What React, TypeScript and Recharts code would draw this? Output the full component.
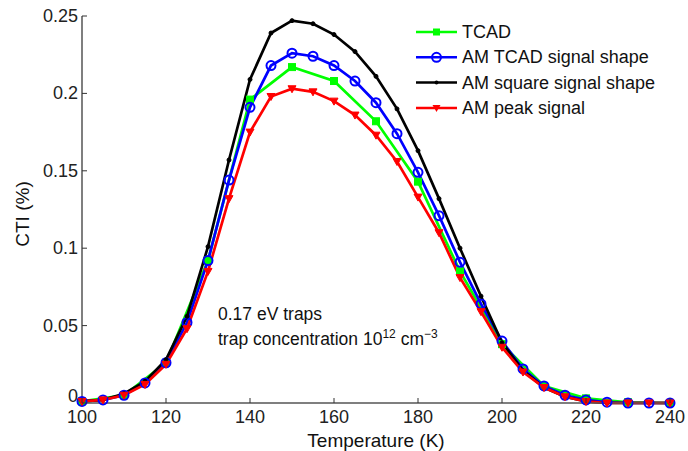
import React from 'react';
import { LineChart, Line, XAxis, YAxis, Legend } from 'recharts';

const temps5 = [100, 105, 110, 115, 120, 125, 130, 135, 140, 145, 150, 155, 160, 165, 170, 175, 180, 185, 190, 195, 200, 205, 210, 215, 220, 225, 230, 235, 240];
const temps10 = [100, 110, 120, 130, 140, 150, 160, 170, 180, 190, 200, 210, 220, 230, 240];

const tcad = [0.001, 0.005, 0.026, 0.092, 0.196, 0.217, 0.208, 0.182, 0.143, 0.085, 0.038, 0.011, 0.003, 0.0005, 0];
const amTcadShape = [0.001, 0.002, 0.005, 0.013, 0.026, 0.052, 0.092, 0.144, 0.191, 0.218, 0.226, 0.224, 0.218, 0.208, 0.194, 0.174, 0.149, 0.121, 0.091, 0.064, 0.040, 0.022, 0.011, 0.005, 0.002, 0.0005, 0, 0, 0];
const amSquareShape = [0.001, 0.002, 0.006, 0.014, 0.028, 0.056, 0.101, 0.157, 0.209, 0.239, 0.247, 0.245, 0.238, 0.227, 0.211, 0.190, 0.163, 0.132, 0.100, 0.069, 0.039, 0.021, 0.010, 0.004, 0.001, 0, 0, 0, 0];
const amPeak = [0.001, 0.002, 0.005, 0.012, 0.025, 0.048, 0.085, 0.132, 0.175, 0.198, 0.203, 0.201, 0.195, 0.186, 0.173, 0.156, 0.133, 0.110, 0.081, 0.059, 0.036, 0.020, 0.010, 0.004, 0.001, 0, 0, 0, 0];

const xTicks = [100, 120, 140, 160, 180, 200, 220, 240];
const yTicks = [0, 0.05, 0.1, 0.15, 0.2, 0.25];
const yTickLabels = ['0', '0.05', '0.1', '0.15', '0.2', '0.25'];

const seriesNames = ['TCAD', 'AM TCAD signal shape', 'AM square signal shape', 'AM peak signal'];
const seriesColors = ['#00ff00', '#0000ff', '#000000', '#ff0000'];

const FONT = '"Liberation Sans", Arial, Helvetica, sans-serif';
const FS = 18;

const toData = (xs: number[], ys: number[]) => xs.map((t, i) => ({ t, v: ys[i] }));

const dataTcad = toData(temps10, tcad);
const dataAmTcad = toData(temps5, amTcadShape);
const dataAmSquare = toData(temps5, amSquareShape);
const dataAmPeak = toData(temps5, amPeak);

const Square = (props: any) => {
  const { cx, cy, index } = props;
  if (cx == null || cy == null) return <g key={`s-${index}`} />;
  return <rect key={`s-${index}`} x={cx - 3.5} y={cy - 3.5} width={7} height={7} fill="#00ff00" stroke="#00ff00" />;
};

const Tri = (props: any) => {
  const { cx, cy, index } = props;
  if (cx == null || cy == null) return <g key={`t-${index}`} />;
  return (
    <polygon
      key={`t-${index}`}
      points={`${cx - 4},${cy - 3} ${cx + 4},${cy - 3} ${cx},${cy + 4}`}
      fill="#ff0000"
      stroke="#ff0000"
    />
  );
};

const XTick = (props: any) => {
  const { x, y, payload } = props;
  return (
    <g>
      <line x1={x} y1={y} x2={x} y2={y - 5} stroke="#333" strokeWidth={1} />
      <text x={x} y={y + 20} textAnchor="middle" fontSize={FS} fontFamily={FONT} fill="#222">
        {payload.value}
      </text>
    </g>
  );
};

const YTick = (props: any) => {
  const { x, y, payload, index } = props;
  const lift = index === 0 ? 7 : 0;
  return (
    <g>
      <line x1={x} y1={y} x2={x + 5} y2={y} stroke="#333" strokeWidth={1} />
      <text x={x - 4} y={y + 6 - lift} textAnchor="end" fontSize={FS} fontFamily={FONT} fill="#222">
        {yTickLabels[index] ?? String(payload.value)}
      </text>
    </g>
  );
};

const LegendMarker = ({ i, cx, cy }: { i: number; cx: number; cy: number }) => {
  if (i === 0) return <rect x={cx - 3.5} y={cy - 3.5} width={7} height={7} fill="#00ff00" />;
  if (i === 1) return <circle cx={cx} cy={cy} r={4.5} fill="none" stroke="#0000ff" strokeWidth={2} />;
  if (i === 2) return <circle cx={cx} cy={cy} r={2} fill="#000" />;
  return <polygon points={`${cx - 4},${cy - 3} ${cx + 4},${cy - 3} ${cx},${cy + 4}`} fill="#ff0000" />;
};

const renderLegend = () => (
  <svg width={270} height={110}>
    {seriesNames.map((name, i) => {
      const cy = 14 + i * 25.3;
      return (
        <g key={name}>
          <line x1={6} y1={cy} x2={47} y2={cy} stroke={seriesColors[i]} strokeWidth={2.5} />
          <LegendMarker i={i} cx={26.5} cy={cy} />
          <text x={52} y={cy + 6} fontSize={FS} fontFamily={FONT} fill="#111">
            {name}
          </text>
        </g>
      );
    })}
  </svg>
);

export default function App() {
  return (
    <div style={{ position: 'absolute', left: 0, top: 0, width: 688, height: 451, background: '#fff' }}>
      <LineChart width={688} height={451} margin={{ top: 16, right: 18, left: 0, bottom: 0 }}>
        <XAxis
          dataKey="t"
          type="number"
          domain={[100, 240]}
          ticks={xTicks}
          height={48}
          tickLine={false}
          tickSize={0}
          tickMargin={0}
          tick={<XTick />}
          axisLine={{ stroke: '#555', strokeWidth: 1.5 }}
          allowDuplicatedCategory={false}
          label={{
            value: 'Temperature (K)',
            position: 'insideBottom',
            offset: 4,
            fontSize: 19,
            fontFamily: FONT,
            fill: '#111',
          }}
        />
        <YAxis
          type="number"
          domain={[0, 0.25]}
          ticks={yTicks}
          width={82}
          tickLine={false}
          tickSize={0}
          tickMargin={0}
          tick={<YTick />}
          axisLine={{ stroke: '#555', strokeWidth: 1.5 }}
          label={{
            content: () => (
              <text
                x={29}
                y={214}
                transform="rotate(-90, 29, 214)"
                textAnchor="middle"
                fontSize={19}
                fontFamily={FONT}
                fill="#111"
              >
                CTI (%)
              </text>
            ),
          }}
        />
        <Legend
          layout="vertical"
          align="center"
          verticalAlign="middle"
          content={renderLegend}
          wrapperStyle={{ left: 410, top: 18, width: 270, height: 110 }}
        />
        <Line
          data={dataTcad}
          dataKey="v"
          name={seriesNames[0]}
          type="linear"
          stroke={seriesColors[0]}
          strokeWidth={2.7}
          dot={Square}
          activeDot={false}
          isAnimationActive={false}
        />
        <Line
          data={dataAmTcad}
          dataKey="v"
          name={seriesNames[1]}
          type="linear"
          stroke={seriesColors[1]}
          strokeWidth={2.7}
          dot={{ r: 4.5, stroke: '#0000ff', strokeWidth: 2, fill: 'none' }}
          activeDot={false}
          isAnimationActive={false}
        />
        <Line
          data={dataAmSquare}
          dataKey="v"
          name={seriesNames[2]}
          type="linear"
          stroke={seriesColors[2]}
          strokeWidth={2.7}
          dot={{ r: 2, stroke: '#000', strokeWidth: 1, fill: '#000' }}
          activeDot={false}
          isAnimationActive={false}
        />
        <Line
          data={dataAmPeak}
          dataKey="v"
          name={seriesNames[3]}
          type="linear"
          stroke={seriesColors[3]}
          strokeWidth={2.7}
          dot={Tri}
          activeDot={false}
          isAnimationActive={false}
        />
        <text x={218} y={320} fontSize={17.5} fontFamily={FONT} fill="#111">
          0.17 eV traps
        </text>
        <text x={218} y={345} fontSize={17.5} fontFamily={FONT} fill="#111">
          trap concentration 10
          <tspan dy={-7} fontSize={12}>12</tspan>
          <tspan dy={7}> cm</tspan>
          <tspan dy={-7} fontSize={12}>−3</tspan>
        </text>
      </LineChart>
    </div>
  );
}
